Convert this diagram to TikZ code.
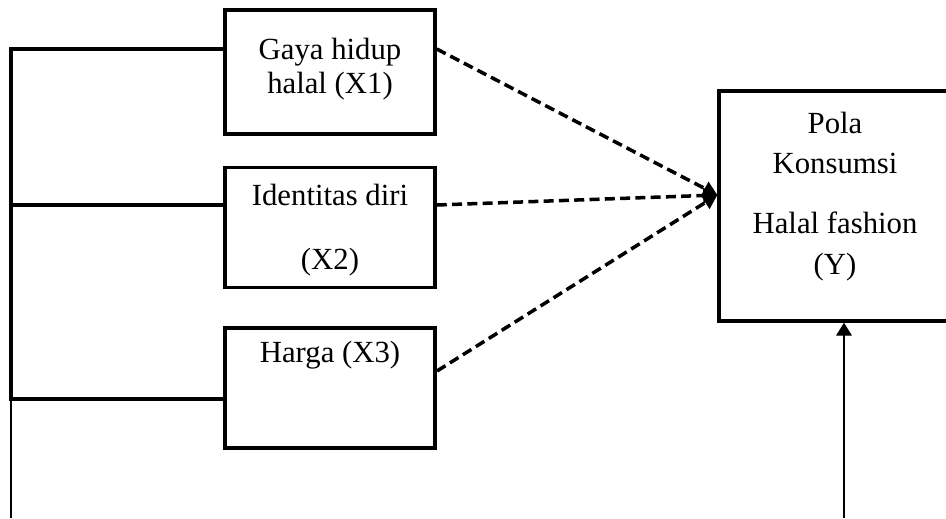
\documentclass[tikz,border=0pt]{standalone}
\usepackage{fontspec}
\setmainfont{Liberation Serif}
\usetikzlibrary{arrows.meta,positioning}

\tikzset{
  var/.style={draw, line width=2pt, minimum width=4.2cm, minimum height=2.4cm, inner sep=0pt},
  txt/.style={align=center, anchor=base, font=\fontsize{17.5}{18.8}\selectfont},
  link/.style={line width=2pt},
  effect/.style={line width=2pt, dash pattern=on 5.7pt off 3pt, -{Triangle[length=8pt,width=9pt,line width=0pt]}},
  moder/.style={line width=0.6pt, -{Triangle[length=7.4pt,width=9pt]}},
}

\begin{document}
\begin{tikzpicture}[x=0.02cm,y=-0.02cm]
  \useasboundingbox (0,0) rectangle (946,518);

  \node[var, minimum height=2.48cm] (x1) at (330,72) {};
  \node[var, below=0.6cm of x1] (x2) {};
  \node[var, below=0.74cm of x2] (x3) {};
  \node[var, minimum width=4.62cm, minimum height=4.6cm] (y) at (834.5,206) {};

  % base anchor sits on the last line
  \node[txt] (t1) at (330,93) {Gaya hidup\\halal (X1)};
  \node[txt] (t2) at (330,269) {Identitas diri\\[17.6pt](X2)};
  \node[txt] (t3) at (330,362) {Harga (X3)};
  \node[txt] (ty) at (835,274) {Pola\\[4pt]Konsumsi\\[15.3pt]Halal fashion\\[4.5pt](Y)};

  \coordinate (c1) at (11,49);
  \coordinate (c2) at (11,205);
  \coordinate (c3) at (11,399);
  \coordinate (c4) at (11,518);
  \coordinate (s3) at (437,371);
  \coordinate (b) at (844,518);

  \draw[link] (c1 -| x1.west) -- (c1) -- (c3) -- (c3 -| x3.west);
  \draw[link] (c2) -- (c2 -| x2.west);
  \draw[line width=0.6pt] (c3) -- (c4);

  \draw[effect] (x1.east |- c1) -- ([yshift=0.22cm]y.west);
  \draw[effect] (x2.east |- c2) -- ([yshift=0.22cm]y.west);
  \draw[effect] (s3) -- ([yshift=0.22cm]y.west);

  \draw[moder] (b) -- (b |- y.south);

\end{tikzpicture}
\end{document}
